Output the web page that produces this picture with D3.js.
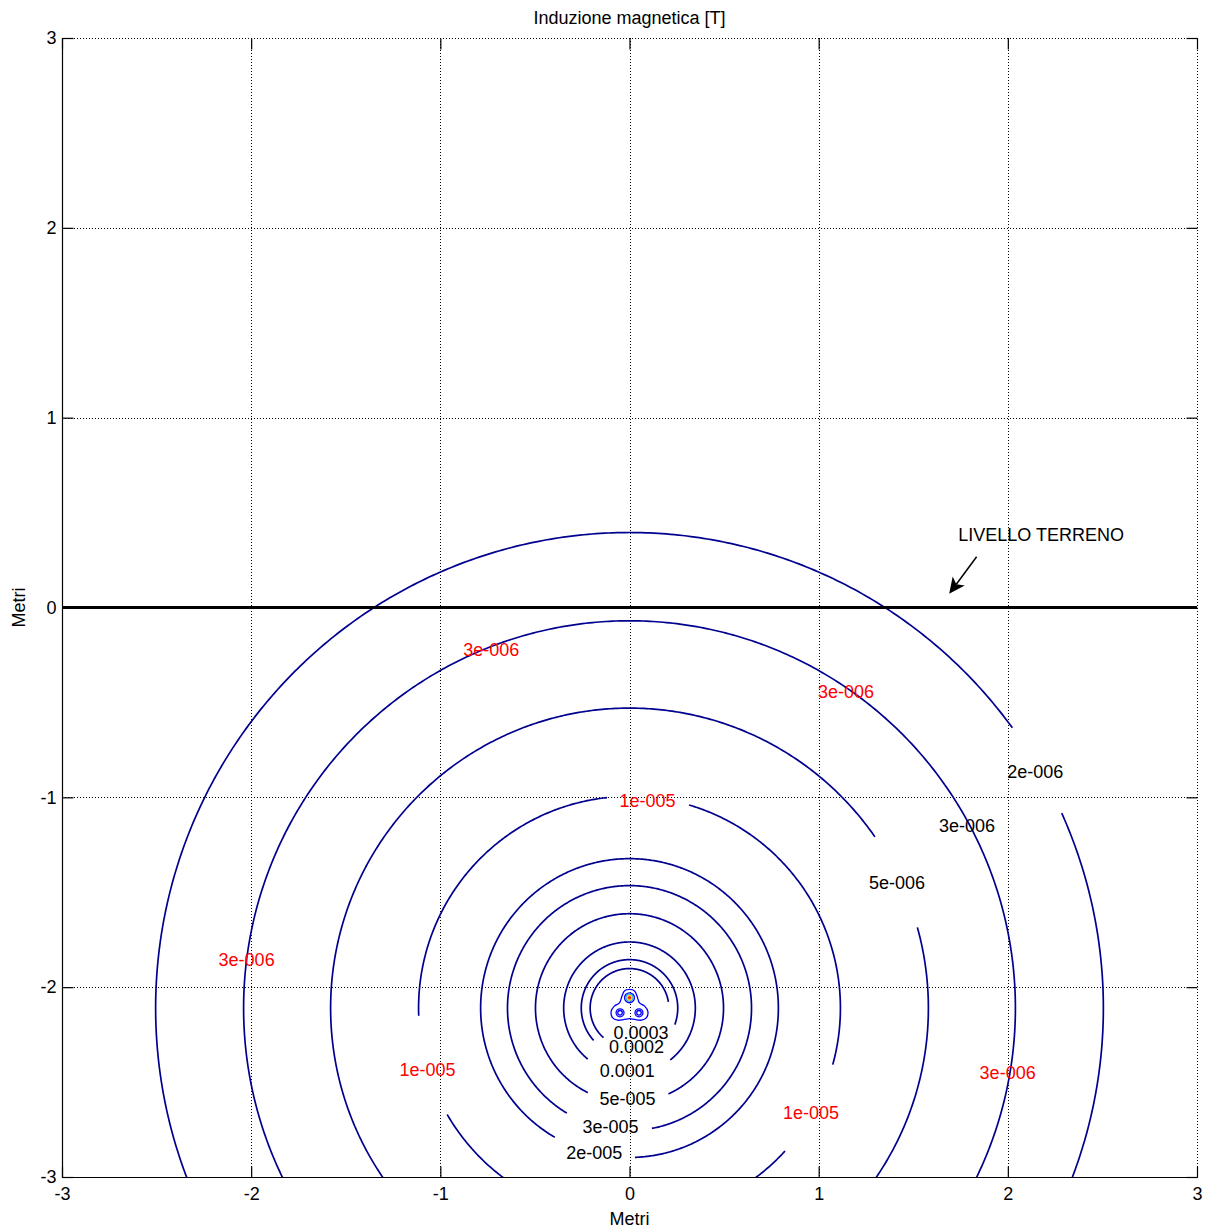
<!DOCTYPE html>
<html>
<head>
<meta charset="utf-8">
<script src="https://cdn.jsdelivr.net/npm/d3@7"></script>
<style>
  body { margin: 0; background: #fff; }
  svg { display: block; }
  text { font-family: "Liberation Sans", Arial, sans-serif; }
</style>
</head>
<body>
<svg id="chart" width="1206" height="1229"></svg>
<script>
// Axis ticks (metres)
const xTicks = [-3, -2, -1, 0, 1, 2, 3];
const yTicks = [-3, -2, -1, 0, 1, 2, 3];

// Iso-induction contours around the trefoil cable (values in tesla)
const levels     = [2e-6, 3e-6, 5e-6, 1e-5, 2e-5, 3e-5, 5e-5, 1e-4, 2e-4, 3e-4];
const ringRadius = [2.505, 2.04, 1.58, 1.115, 0.787, 0.645, 0.497, 0.348, 0.255, 0.208];
// visible stretches of each contour, degrees counter-clockwise from +x
const ringArcs = [
  [[36.1, 384.2]],
  [[0, 360]],
  [[34.8, 375.6]],
  [[-15.5, 73.6], [96.1, 182.1], [210.2, 317.5]],
  [[-87.9, 239.9]],
  [[-79.4, 239.1]],
  [[-65.5, 243.7]],
  [[-51.7, 230.6]],
  [[-20, 222]],
  [[9.1, 228.6]]
];
const ringCenter = [0, -2.11];

// Cable positions (m) and the small contours close to each conductor
const conductorX = [0, -0.05, 0.05];
const conductorY = [-2.056, -2.135, -2.135];
const topCoreRadius    = [0.026, 0.018, 0.012, 0.006];
const bottomCoreRadius = [0.021, 0.012];
// 5e-4 T contour wrapping the three cables
const envelopeX = [0, 0.027, 0.04, 0.053, 0.08, 0.097, 0.09, 0.063, 0.028, 0, -0.028, -0.063, -0.09, -0.097, -0.08, -0.053, -0.04, -0.027];
const envelopeY = [-2.012, -2.02, -2.048, -2.083, -2.1, -2.127, -2.16, -2.174, -2.17, -2.166, -2.17, -2.174, -2.16, -2.127, -2.1, -2.083, -2.048, -2.02];

// Contour labels placed on the lines
const lineLabelText = ["2e-006", "3e-006", "5e-006", "0.0003", "0.0002", "0.0001", "5e-005", "3e-005", "2e-005"];
const lineLabelX = [2.145, 1.784, 1.414, 0.061, 0.037, -0.012, -0.011, -0.100, -0.186];
const lineLabelY = [-0.862, -1.146, -1.447, -2.240, -2.313, -2.438, -2.589, -2.736, -2.869];

// Additional value notes
const noteText = ["3e-006", "3e-006", "1e-005", "3e-006", "1e-005", "1e-005", "3e-006"];
const noteX = [-0.731, 1.144, 0.095, -2.024, -1.068, 0.959, 1.999];
const noteY = [-0.221, -0.441, -1.015, -1.853, -2.432, -2.660, -2.448];

// Ground level marker
const groundY = 0;
const groundLabel = "LIVELLO TERRENO";
const groundLabelPos = [1.738, 0.349];
const arrowFrom = [1.835, 0.267];
const arrowTo = [1.69, 0.072];

const svg = d3.select("#chart");
const pL = 62, pR = 1197, pT = 38, pB = 1177;
const x = d3.scaleLinear().domain([-3, 3]).range([pL, pR]);
const y = d3.scaleLinear().domain([-3, 3]).range([pB, pT]);
const FS = 18;

svg.append("defs").append("clipPath").attr("id", "plotclip")
  .append("rect").attr("x", pL).attr("y", pT)
  .attr("width", pR - pL).attr("height", pB - pT);

// grid (dotted)
const grid = svg.append("g").attr("stroke", "#000").attr("stroke-width", 1)
  .attr("stroke-dasharray", "1,2").attr("shape-rendering", "crispEdges");
grid.selectAll(".gx").data(xTicks).join("line")
  .attr("x1", d => Math.round(x(d)) + 0.5).attr("x2", d => Math.round(x(d)) + 0.5)
  .attr("y1", pT).attr("y2", pB);
grid.selectAll(".gy").data(yTicks).join("line")
  .attr("y1", d => Math.round(y(d)) + 0.5).attr("y2", d => Math.round(y(d)) + 0.5)
  .attr("x1", pL).attr("x2", pR);

// contours
const plot = svg.append("g").attr("clip-path", "url(#plotclip)");
const line = d3.line().x(d => x(d[0])).y(d => y(d[1]));
function arcPoints(cx, cy, r, a0, a1) {
  const n = Math.max(12, Math.ceil(Math.abs(a1 - a0) * 2));
  return d3.range(n + 1).map(i => {
    const a = (a0 + (a1 - a0) * i / n) * Math.PI / 180;
    return [cx + r * Math.cos(a), cy + r * Math.sin(a)];
  });
}
const ringData = [];
levels.forEach((lv, i) => ringArcs[i].forEach(a => ringData.push({ lv, pts: arcPoints(ringCenter[0], ringCenter[1], ringRadius[i], a[0], a[1]) })));
plot.append("g").selectAll("path").data(ringData).join("path")
  .attr("d", d => line(d.pts))
  .attr("fill", "none").attr("stroke", "#00008f").attr("stroke-width", 1.7)
  .attr("stroke-linejoin", "round");

// contours close to the cables (jet-like colours for high levels)
const coreColor = d3.scaleOrdinal().domain([0, 1, 2, 3]).range(["#0000ff", "#1aa3ff", "#ffdd00", "#ff2a00"]);
const closedLine = d3.line().x(d => x(d[0])).y(d => y(d[1])).curve(d3.curveCatmullRomClosed);
plot.append("path")
  .attr("d", closedLine(envelopeX.map((v, i) => [v, envelopeY[i]])))
  .attr("fill", "none").attr("stroke", "#0000ff").attr("stroke-width", 1.3);
const core = plot.append("g");
conductorX.forEach((cx, k) => {
  const radii = k === 0 ? topCoreRadius : bottomCoreRadius;
  radii.forEach((r, j) => {
    const last = k === 0 && j === radii.length - 1;
    core.append("ellipse")
      .attr("cx", x(cx)).attr("cy", y(conductorY[k]))
      .attr("rx", x(cx + r) - x(cx)).attr("ry", y(conductorY[k] - r) - y(conductorY[k]))
      .attr("fill", last ? coreColor(j) : "none")
      .attr("stroke", k === 0 ? coreColor(j) : "#0000ff")
      .attr("stroke-width", 1.3);
  });
});

// ground level
svg.append("line")
  .attr("x1", x(-3)).attr("x2", x(3)).attr("y1", y(groundY)).attr("y2", y(groundY))
  .attr("stroke", "#000").attr("stroke-width", 3.2);

// axes box: solid left / bottom
svg.append("line").attr("x1", pL + 0.5).attr("x2", pL + 0.5).attr("y1", pT).attr("y2", pB + 0.5)
  .attr("stroke", "#000").attr("stroke-width", 1.2);
svg.append("line").attr("x1", pL).attr("x2", pR + 0.5).attr("y1", pB + 0.5).attr("y2", pB + 0.5)
  .attr("stroke", "#000").attr("stroke-width", 1.2);

// axes with inward ticks
const fmt = d => String(d);
const xAxis = svg.append("g").attr("transform", `translate(0,${pB + 0.5})`)
  .call(d3.axisBottom(x).tickValues(xTicks).tickFormat(fmt).tickSizeInner(-11).tickSizeOuter(0).tickPadding(10));
const yAxis = svg.append("g").attr("transform", `translate(${pL + 0.5},0)`)
  .call(d3.axisLeft(y).tickValues(yTicks).tickFormat(fmt).tickSizeInner(-11).tickSizeOuter(0).tickPadding(6));
const xTop = svg.append("g").attr("transform", `translate(0,${pT + 0.5})`)
  .call(d3.axisTop(x).tickValues(xTicks).tickFormat("").tickSizeInner(-11).tickSizeOuter(0));
const yRight = svg.append("g").attr("transform", `translate(${pR + 0.5},0)`)
  .call(d3.axisRight(y).tickValues(yTicks).tickFormat("").tickSizeInner(-11).tickSizeOuter(0));
[xAxis, yAxis, xTop, yRight].forEach(g => {
  g.select(".domain").remove();
  g.selectAll(".tick line").attr("stroke", "#000").attr("stroke-width", 1.2);
  g.selectAll("text").attr("font-size", FS).attr("fill", "#000")
    .attr("font-family", "'Liberation Sans', Arial, sans-serif");
});

// contour labels
svg.append("g").selectAll("text").data(lineLabelText).join("text")
  .attr("x", (d, i) => x(lineLabelX[i])).attr("y", (d, i) => y(lineLabelY[i]))
  .attr("dy", "0.36em").attr("text-anchor", "middle")
  .attr("font-size", FS).attr("fill", "#000").text(d => d);
svg.append("g").selectAll("text").data(noteText).join("text")
  .attr("x", (d, i) => x(noteX[i])).attr("y", (d, i) => y(noteY[i]))
  .attr("dy", "0.36em").attr("text-anchor", "middle")
  .attr("font-size", FS).attr("fill", "#ff0000").text(d => d);

// ground label and arrow
svg.append("text").attr("x", x(groundLabelPos[0])).attr("y", y(groundLabelPos[1]))
  .attr("font-size", FS).attr("fill", "#000").text(groundLabel);
{
  const x0 = x(arrowFrom[0]), y0 = y(arrowFrom[1]), x1 = x(arrowTo[0]), y1 = y(arrowTo[1]);
  const len = Math.hypot(x1 - x0, y1 - y0), ux = (x1 - x0) / len, uy = (y1 - y0) / len;
  const px = -uy, py = ux, hl = 16, hw = 7.5, notch = 12;
  svg.append("line").attr("x1", x0).attr("y1", y0).attr("x2", x1 - ux * notch).attr("y2", y1 - uy * notch)
    .attr("stroke", "#000").attr("stroke-width", 1.5);
  const p = d3.path();
  p.moveTo(x1, y1);
  p.lineTo(x1 - ux * hl + px * hw, y1 - uy * hl + py * hw);
  p.lineTo(x1 - ux * notch, y1 - uy * notch);
  p.lineTo(x1 - ux * hl - px * hw, y1 - uy * hl - py * hw);
  p.closePath();
  svg.append("path").attr("d", p.toString()).attr("fill", "#000");
}

// titles
svg.append("text").attr("x", (pL + pR) / 2).attr("y", 24).attr("text-anchor", "middle")
  .attr("font-size", FS).attr("fill", "#000").text("Induzione magnetica [T]");
svg.append("text").attr("x", (pL + pR) / 2).attr("y", 1225).attr("text-anchor", "middle")
  .attr("font-size", FS).attr("fill", "#000").text("Metri");
svg.append("text").attr("transform", `translate(25,${y(0)}) rotate(-90)`).attr("text-anchor", "middle")
  .attr("font-size", FS).attr("fill", "#000").text("Metri");
</script>
</body>
</html>
